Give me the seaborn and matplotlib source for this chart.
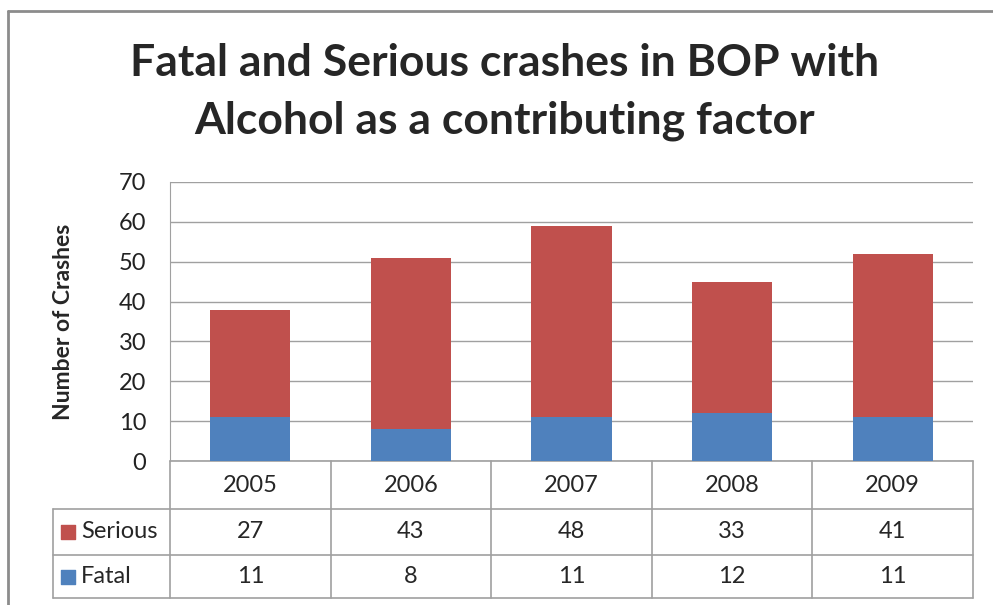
import pandas as pd
import matplotlib.pyplot as plt
import seaborn as sns
from matplotlib.lines import Line2D
from matplotlib.transforms import blended_transform_factory

# data
years = ['2005', '2006', '2007', '2008', '2009']
serious = [27, 43, 48, 33, 41]
fatal = [11, 8, 11, 12, 11]

red = '#C0504D'
blue = '#4F81BD'
grey = '#A0A0A0'

sns.set_style('white')
plt.rcParams['font.family'] = ['Lato', 'DejaVu Sans']

df = pd.DataFrame({'year': years, 'serious': serious, 'fatal': fatal})
df['total'] = df['serious'] + df['fatal']

W, H = 993, 605
fig = plt.figure(figsize=(W / 100, H / 100), dpi=100)
fs = 17

# plot area in pixel terms: x 170..973, y 182..461
ax = fig.add_axes([170 / W, (H - 461) / H, (973 - 170) / W, (461 - 182) / H])

# stacked bars: total in red, fatal on top of it in blue
sns.barplot(data=df, x='year', y='total', color=red, width=0.5, saturation=1, ax=ax,
            linewidth=0, zorder=3)
sns.barplot(data=df, x='year', y='fatal', color=blue, width=0.5, saturation=1, ax=ax,
            linewidth=0, zorder=3)

ax.set_xlim(-0.5, len(years) - 0.5)
ax.set_ylim(0, 70)
ax.set_yticks(range(0, 71, 10))
ax.yaxis.grid(True, color=grey, linewidth=1)
ax.set_axisbelow(True)
ax.tick_params(axis='y', labelsize=fs, length=0, pad=17, colors='#222222')
ax.set_xticks([])
ax.set_xlabel('')
ax.set_ylabel('Number of Crashes', fontsize=16.5, fontweight='bold', labelpad=32)
for s in ['top', 'right', 'bottom']:
    ax.spines[s].set_visible(False)
ax.spines['left'].set_color(grey)

# data table under the axes
tr = blended_transform_factory(ax.transData, ax.transAxes)
ph = 461 - 182
row_y = [0, -48 / ph, -94 / ph, -137 / ph]
left_x = -0.5 - (170 - 53) / ((973 - 170) / len(years))
n = len(years)

def hline(x0, x1, y):
    ax.add_line(Line2D([x0, x1], [y, y], transform=tr, color=grey, lw=1.2, clip_on=False))

def vline(x, y0, y1):
    ax.add_line(Line2D([x, x], [y0, y1], transform=tr, color=grey, lw=1.2, clip_on=False))

hline(-0.5, n - 0.5, row_y[0])
for y in row_y[1:]:
    hline(left_x, n - 0.5, y)
vline(-0.5, row_y[0], row_y[3])
vline(left_x, row_y[1], row_y[3])
for i in range(n):
    vline(i + 0.5, row_y[0], row_y[3])

def mid(a, b):
    return (a + b) / 2

for i, yr in enumerate(years):
    ax.text(i, mid(row_y[0], row_y[1]), yr, transform=tr, ha='center', va='center', fontsize=fs)
    ax.text(i, mid(row_y[1], row_y[2]), str(serious[i]), transform=tr, ha='center', va='center', fontsize=fs)
    ax.text(i, mid(row_y[2], row_y[3]), str(fatal[i]), transform=tr, ha='center', va='center', fontsize=fs)

for (lab, col, r) in [('Serious', red, 1), ('Fatal', blue, 2)]:
    ym = mid(row_y[r], row_y[r + 1])
    ax.scatter([left_x + 0.095], [ym], marker='s', s=110, color=col, transform=tr, clip_on=False)
    ax.text(left_x + 0.175, ym, lab, transform=tr, ha='left', va='center', fontsize=fs)

# title
fig.text(505 / W, 1 - 63 / H, 'Fatal and Serious crashes in BOP with', ha='center', va='center',
         fontsize=32, fontweight='bold')
fig.text(505 / W, 1 - 121 / H, 'Alcohol as a contributing factor', ha='center', va='center',
         fontsize=32, fontweight='bold')

# outer chart frame (cropped on the right and bottom)
fig.add_artist(Line2D([8 / W, 1], [1 - 11 / H, 1 - 11 / H], color='#8C8C8C', lw=2))
fig.add_artist(Line2D([8 / W, 8 / W], [0, 1 - 11 / H], color='#8C8C8C', lw=2))

fig.savefig('out.png', dpi=100)
